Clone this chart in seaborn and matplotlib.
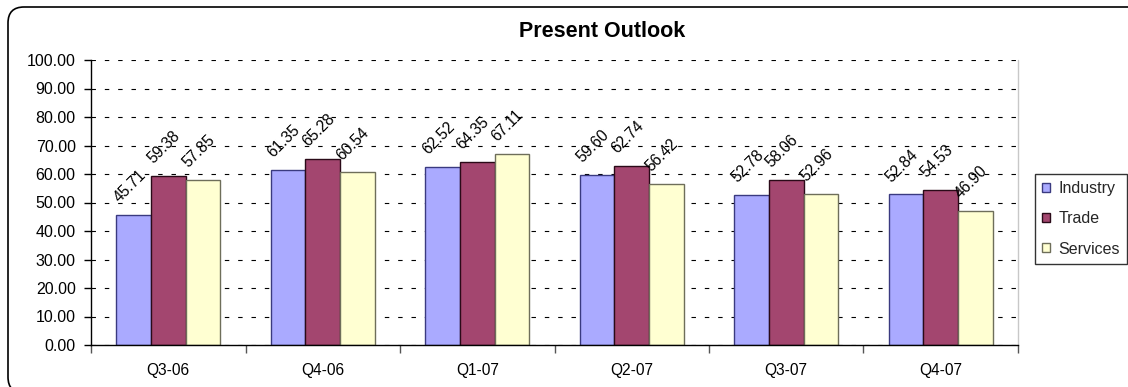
import matplotlib
matplotlib.use("Agg")
import matplotlib.pyplot as plt
import matplotlib.patches as mpatches
import matplotlib.transforms as mtransforms
from matplotlib.ticker import FixedLocator, FormatStrFormatter
import seaborn as sns
import pandas as pd

quarters = ["Q3-06", "Q4-06", "Q1-07", "Q2-07", "Q3-07", "Q4-07"]
industry = [45.71, 61.35, 62.52, 59.60, 52.78, 52.84]
trade = [59.38, 65.28, 64.35, 62.74, 58.06, 54.53]
services = [57.85, 60.54, 67.11, 56.42, 52.96, 46.90]
sectors = ["Industry", "Trade", "Services"]
y_ticks = [0, 10, 20, 30, 40, 50, 60, 70, 80, 90, 100]

fills = {"Industry": "#AAAAFF", "Trade": "#A3466F", "Services": "#FFFFD2"}
edges = {"Industry": "#3A3A80", "Trade": "#2A0A18", "Services": "#6E6E5A"}

df = pd.DataFrame({
    "quarter": quarters * 3,
    "sector": [s for s in sectors for _ in quarters],
    "value": industry + trade + services,
})

sns.set_theme(style="white")
plt.rcParams["font.family"] = ["Liberation Sans", "DejaVu Sans"]

fig = plt.figure(figsize=(11.28, 3.87), dpi=100)
ax = fig.add_axes([91 / 1128, 42 / 387, 927 / 1128, 285 / 387])

sns.barplot(data=df, x="quarter", y="value", hue="sector", order=quarters,
            hue_order=sectors, palette=fills, width=0.67, saturation=1,
            linewidth=1.0, legend=False, ax=ax)

for container, name in zip(ax.containers, sectors):
    for bar in container:
        bar.set_edgecolor(edges[name])
    labels = ax.bar_label(container, labels=[f"{v:.2f}" for v in container.datavalues],
                          rotation=45, padding=1, fontsize=11.2, color="black")
    for lab in labels:
        lab.xyann = (-3, 7)

ax.set_xlim(-0.5, len(quarters) - 0.5)
ax.set_ylim(0, 100)
ax.yaxis.set_major_locator(FixedLocator(y_ticks))
ax.yaxis.set_major_formatter(FormatStrFormatter("%.2f"))
ax.yaxis.grid(True, color="black", linestyle=(0, (4, 8)), linewidth=0.8)
ax.set_axisbelow(True)

ax.xaxis.set_minor_locator(FixedLocator([i - 0.5 for i in range(len(quarters) + 1)]))
ax.tick_params(axis="x", which="major", length=0, pad=13, labelsize=11.2, colors="black")
ax.tick_params(axis="x", which="minor", length=6, width=1, color="#555555", direction="out", bottom=True)
ax.tick_params(axis="y", which="major", length=5, width=1, color="black", direction="out",
               left=True, labelsize=11.5, labelcolor="black", pad=6)
ax.set_xlabel("")
ax.set_ylabel("")

for side in ["top", "right"]:
    ax.spines[side].set_visible(False)
for side in ["left", "bottom"]:
    ax.spines[side].set_color("black")
    ax.spines[side].set_linewidth(1.0)

ax.axvline(len(quarters) - 0.5, color="#C8C8C8", linewidth=1.0, clip_on=False)

handles = [mpatches.Patch(facecolor=fills[s], edgecolor=edges[s], linewidth=1.0, label=s)
           for s in sectors]
leg = fig.legend(handles=handles, loc="upper left", bbox_to_anchor=(1035 / 1128, 1 - 174 / 387),
                 frameon=True, fancybox=False, edgecolor="black", fontsize=11.5,
                 handlelength=0.5, handleheight=0.5, handletextpad=0.5,
                 labelspacing=0.95, borderpad=0.45, borderaxespad=0)
leg.get_frame().set_linewidth(1.0)

fig.text(602 / 1128, 1 - 37 / 387, "Present Outlook", ha="center", va="baseline",
         fontsize=15.5, fontweight="bold", color="black")

# rounded chart border, running off the right and bottom edges of the canvas
frame = mpatches.FancyBboxPatch((8, -6), 1136, 386,
                                boxstyle="round,pad=0,rounding_size=16",
                                transform=mtransforms.IdentityTransform(),
                                facecolor="none", edgecolor="black", linewidth=1.2)
fig.patches.append(frame)

fig.savefig("out.png", dpi=100)
